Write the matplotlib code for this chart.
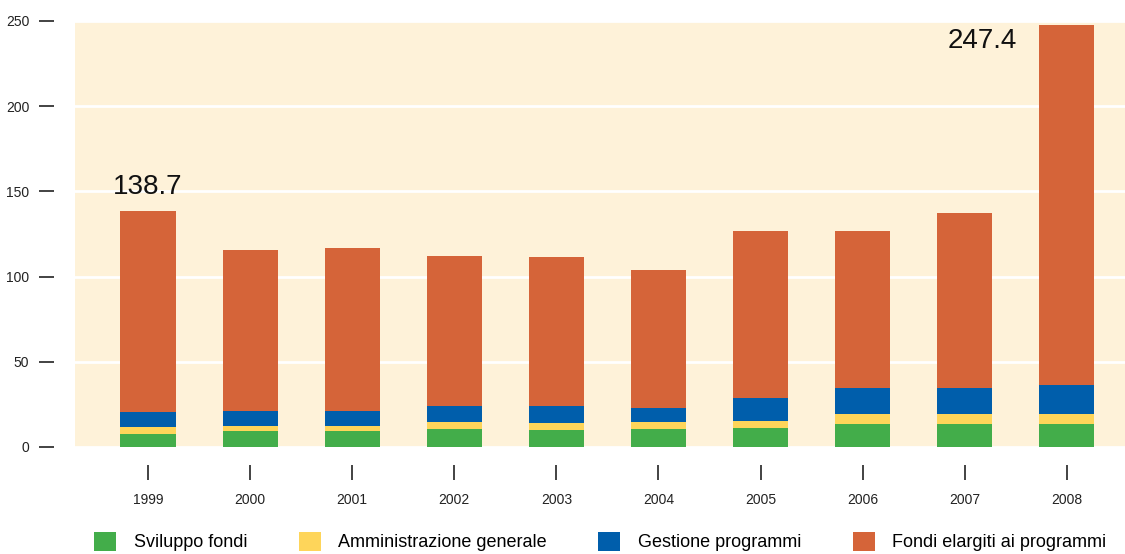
import matplotlib.pyplot as plt
import numpy as np

# values (milioni)
years = ['1999', '2000', '2001', '2002', '2003', '2004', '2005', '2006', '2007', '2008']
sviluppo = [7.5, 9.2, 9.2, 10.4, 9.8, 10.4, 11.0, 13.4, 13.4, 13.4]
amministrazione = [4.1, 3.0, 3.0, 4.1, 4.1, 4.1, 4.1, 5.8, 5.8, 5.8]
gestione = [9.0, 8.8, 8.8, 9.4, 10.0, 8.3, 13.5, 15.3, 15.3, 17.1]
fondi = [118.1, 94.7, 95.9, 88.3, 87.7, 81.1, 98.3, 92.4, 103.0, 211.1]
labels = ['Sviluppo fondi', 'Amministrazione generale', 'Gestione programmi', 'Fondi elargiti ai programmi']
colors = ['#43ad4a', '#fed55a', '#005eab', '#d56439']
yticks = [0, 50, 100, 150, 200, 250]

plt.rcParams['font.family'] = ['Liberation Sans', 'DejaVu Sans']

fig = plt.figure(figsize=(11.25, 5.54), dpi=100)
ax = fig.add_axes([75/1125, 1-447/554, 1-75/1125, 426/554])
ax.set_facecolor('#fef2d9')

x = np.arange(len(years))
bottom = np.zeros(len(years))
handles = []
for vals, col, lab in zip([sviluppo, amministrazione, gestione, fondi], colors, labels):
    b = ax.bar(x, vals, 0.54, bottom=bottom, color=col, label=lab, zorder=3)
    handles.append(b)
    bottom = bottom + np.array(vals)

totals = bottom
ax.text(x[0], totals[0] + 6, '%.1f' % totals[0], ha='center', va='bottom', fontsize=20, color='#111111')
ax.text(x[-1] - 0.49, 238, '%.1f' % totals[-1], ha='right', va='center', fontsize=20, color='#111111')

ax.set_xlim(-0.715, 9.57)
ax.set_ylim(0, 250)
ax.set_yticks(yticks)
ax.set_xticks(x)
ax.set_xticklabels(years)
ax.yaxis.grid(True, color='white', linewidth=2, zorder=1)
ax.set_axisbelow(True)

for s in ['top', 'right']:
    ax.spines[s].set_visible(False)
ax.spines['left'].set_position(('outward', 15))
ax.spines['bottom'].set_position(('outward', 13))
ax.spines['left'].set_visible(False)
ax.spines['bottom'].set_visible(False)
ax.tick_params(axis='y', length=11, width=1.2, pad=7, labelsize=10, colors='#222222')
ax.tick_params(axis='x', length=11, width=1.2, pad=9, labelsize=10, colors='#222222')

fig.legend(handles=handles, loc='upper left', bbox_to_anchor=(94/1125, 1-532/554),
           ncol=4, frameon=False, fontsize=13, handlelength=1.22, handleheight=1.22,
           handletextpad=0.97, columnspacing=2.85, borderpad=0, borderaxespad=0)

fig.savefig('out.png', dpi=100)
